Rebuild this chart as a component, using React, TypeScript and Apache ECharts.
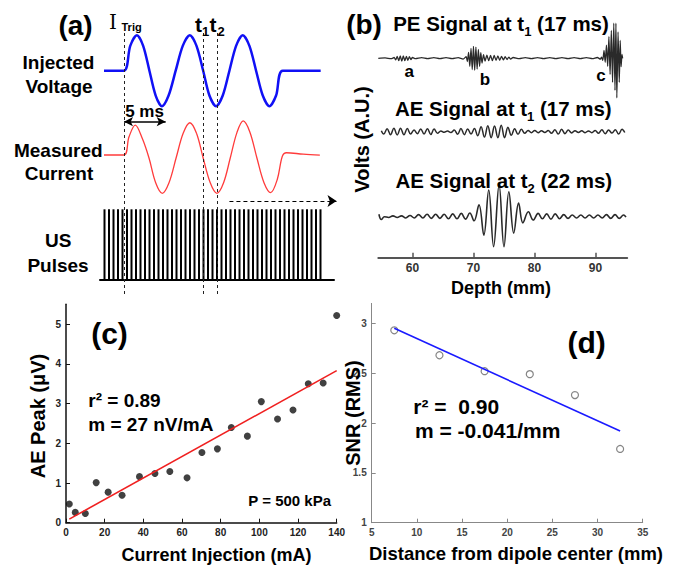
import React, { useEffect, useRef } from 'react';
import * as echarts from 'echarts';

const FONT = '"Liberation Sans", Arial, sans-serif';

// ---------- Panel (a): schematic waveforms, time in ms (5 ms arrow scale) ----------
const injectedVoltage: number[][] = [
  [-2.4, 0], [0, 0], [0.75, 0.7], [1.55, 1], [2.3, 0.7], [3.05, 0], [3.8, -0.7], [4.55, -1], [5.35, -0.7],
  [6.2, 0], [7.05, 0.7], [7.9, 1], [8.7, 0.7], [9.5, 0], [10.25, -0.7], [11.05, -1], [11.85, -0.7],
  [12.65, 0], [13.45, 0.7], [14.25, 1], [15.05, 0.7], [15.85, 0], [16.65, -0.7], [17.45, -1], [18.25, -0.7],
  [19.05, 0], [23.6, 0],
];
const measuredCurrent: number[][] = [
  [-2.4, 0.085], [0, 0.085], [0.6, 0.6], [1.35, 0.93], [2.2, 0.55], [3.0, 0], [3.8, -0.7], [4.6, -1], [5.4, -0.7],
  [6.25, 0], [7.1, 0.7], [7.9, 1], [8.7, 0.7], [9.5, 0], [10.35, -0.7], [11.15, -1], [11.95, -0.7],
  [12.75, 0], [13.55, 0.72], [14.3, 1.05], [15.1, 0.74], [15.95, 0], [16.8, -0.7], [17.6, -0.98], [18.4, -0.6],
  [19.0, 0.05], [19.5, 0.15], [21.5, 0.11], [23.5, 0.085],
];
const usPulses: (number | string)[] = [
  '-',
  1, 1, 1, 1, 1, 1, 1, 1, 1, 1,
  1, 1, 1, 1, 1, 1, 1, 1, 1, 1,
  1, 1, 1, 1, 1, 1, 1, 1, 1, 1,
  1, 1, 1, 1, 1, 1, 1, 1, 1, 1,
  1, 1, 1, 1, 1, 1, 1, 1, 1,
  '-', '-', '-',
];
const markerTimes = [0, 9.52, 11.2]; // I_Trig, t1, t2
const fiveMsArrow = [[0, 1.03], [5, 1.03]];
const continueArrow = [[12.65, -1.22], [25.5, -1.22]];

// ---------- Panel (b): signals vs depth (mm) ----------
const depthTicks = [60, 70, 80, 90];
const peSignal: number[][] = [
  [54.4, 0], [55.5, 0.01], [56.5, -0.01], [57.0, 0.02], [57.25, -0.04], [57.5, 0.05], [57.75, -0.06], [58.0, 0.06],
  [58.25, -0.07], [58.5, 0.06], [58.75, -0.06], [59.0, 0.05], [59.25, -0.05], [59.5, 0.04], [59.75, -0.03], [60.0, 0.02],
  [60.5, -0.01], [61.5, 0.015], [62.5, -0.01], [63.5, 0.015], [64.5, -0.01], [65.5, 0.015], [66.5, -0.01], [67.5, 0.015],
  [68.3, -0.02], [68.8, 0.04],
  [69.0, -0.08], [69.2, 0.15], [69.4, -0.2], [69.6, 0.25], [69.8, -0.28], [70.0, 0.3], [70.2, -0.3], [70.4, 0.28],
  [70.6, -0.27], [70.8, 0.22], [71.0, -0.2], [71.2, 0.14], [71.4, -0.12], [71.65, 0.09], [71.9, -0.07],
  [72.2, 0.08], [72.5, -0.06], [72.8, 0.07], [73.1, -0.06], [73.4, 0.07], [73.7, -0.05], [74.0, 0.06], [74.3, -0.05],
  [74.6, 0.05], [74.9, -0.04], [75.2, 0.04], [75.5, -0.03], [75.8, 0.03], [76.1, -0.02], [76.5, 0.02],
  [77.5, -0.01], [78.5, 0.015], [79.5, -0.01], [80.5, 0.015], [81.5, -0.01], [82.5, 0.015], [83.5, -0.01], [84.5, 0.015],
  [85.5, -0.01], [86.5, 0.015], [87.5, -0.01], [88.5, 0.015], [89.5, -0.01], [90.3, 0.02], [90.8, -0.02],
  [91.0, 0.03], [91.2, -0.05], [91.4, 0.2], [91.6, -0.1], [91.8, 0.33], [92.0, -0.2], [92.2, 0.54], [92.4, -0.4],
  [92.6, 0.7], [92.8, -0.6], [93.0, 0.88], [93.2, -0.8], [93.35, 0.88], [93.5, -0.99], [93.7, 0.66], [93.9, -0.6],
  [94.05, 0.45], [94.2, -0.21], [94.35, 0.1], [94.45, 0],
];
const aeSignalT1: number[][] = [
  [54.9, 0.05], [55.3, -0.12], [55.85, 0.15], [56.4, -0.15], [56.95, 0.17], [57.5, -0.16], [58.05, 0.17], [58.6, -0.15],
  [59.15, 0.16], [59.7, -0.12], [60.25, 0.08], [60.8, -0.1], [61.35, 0.14], [61.9, -0.12], [62.45, 0.15], [63.0, -0.14],
  [63.55, 0.13], [64.1, -0.08], [64.65, 0.04], [65.2, -0.03], [65.75, 0.03], [66.3, -0.04], [66.85, 0.08], [67.4, -0.13],
  [67.95, 0.16], [68.5, -0.15], [69.05, 0.14], [69.6, -0.12], [70.15, 0.16], [70.7, -0.2], [71.25, 0.25], [71.8, -0.27],
  [72.35, 0.3], [72.9, -0.3], [73.45, 0.28], [74.0, -0.3], [74.55, 0.32], [75.1, -0.3], [75.65, 0.22], [76.2, -0.18],
  [76.75, 0.15], [77.3, -0.13], [77.85, 0.12], [78.4, -0.08], [78.95, 0.06], [79.5, -0.05], [80.05, 0.06], [80.6, -0.05],
  [81.15, 0.05], [81.7, -0.04], [82.25, 0.06], [82.8, -0.08], [83.35, 0.1], [83.9, -0.12], [84.45, 0.12], [85.0, -0.1],
  [85.55, 0.08], [86.1, -0.06], [86.65, 0.05], [87.2, -0.04], [87.75, 0.05], [88.3, -0.05], [88.85, 0.04], [89.4, -0.05],
  [89.95, 0.06], [90.5, -0.08], [91.05, 0.1], [91.6, -0.1], [92.15, 0.09], [92.7, -0.07], [93.25, 0.1], [93.8, -0.12],
  [94.35, 0.12], [94.8, -0.04],
];
const aeSignalT2: number[][] = [
  [54.5, 0.06], [54.9, -0.07], [55.4, 0.0], [56.1, -0.02], [56.8, 0.02], [57.5, -0.02], [58.2, 0.02], [58.9, -0.03],
  [59.6, 0.03], [60.3, -0.03], [61.0, 0.05], [61.7, -0.03], [62.4, 0.06], [63.1, -0.04], [63.8, 0.06], [64.5, -0.04],
  [65.2, 0.06], [65.9, -0.05], [66.6, 0.07], [67.3, -0.05], [68.0, 0.08], [68.7, -0.06], [69.4, 0.09], [70.1, -0.1],
  [70.9, 0.29], [71.7, -0.45], [72.5, 0.65], [73.3, -0.73], [74.2, 0.77], [75.0, -0.73], [75.8, 0.61], [76.6, -0.4],
  [77.4, 0.33], [78.1, -0.15], [79.0, 0.12], [79.8, -0.08], [80.6, 0.08], [81.3, -0.05], [82.0, 0.07], [82.7, -0.06],
  [83.4, 0.07], [84.1, -0.05], [84.8, 0.05], [85.5, -0.04], [86.2, 0.04], [86.9, -0.03], [87.6, 0.04], [88.3, -0.03],
  [89.0, 0.04], [89.7, -0.03], [90.4, 0.04], [91.1, -0.03], [91.8, 0.05], [92.5, -0.04], [93.2, 0.05], [93.9, -0.04],
  [94.6, 0.04], [95.0, -0.01],
];

// ---------- Panel (c): AE peak vs current ----------
const currentMA = [1.7, 4.8, 10, 15.6, 21.8, 29, 38, 46, 53.7, 62.6, 70.3, 78.3, 85.5, 93.8, 101, 109.4, 117.4, 125.3, 133, 140];
const aePeakUV = [0.47, 0.26, 0.23, 1.01, 0.77, 0.69, 1.16, 1.24, 1.29, 1.13, 1.77, 1.86, 2.4, 2.18, 3.05, 2.61, 2.84, 3.5, 3.52, 5.22];
const fitC = [[1.7, 0.09], [140, 3.83]];
const yTicksC = [0, 1, 2, 3, 4, 5];

// ---------- Panel (d): SNR vs distance ----------
const distanceMM = [7.5, 12.5, 17.5, 22.5, 27.5, 32.5];
const snrRMS = [2.93, 2.68, 2.52, 2.49, 2.28, 1.74];
const fitD = [[7.5, 2.95], [32.5, 1.92]];
const yTicksD = [1, 1.5, 2, 2.5, 3];

const txt = (text: string, x: number, y: number, size: number, opts: any = {}) => ({
  type: 'text',
  x,
  y,
  z: 100,
  rotation: opts.rotation || 0,
  style: {
    text,
    fill: opts.fill || '#000',
    fontSize: size,
    fontWeight: opts.weight || 'bold',
    fontFamily: opts.family || FONT,
    align: opts.align || 'center',
    verticalAlign: 'middle',
  },
});

const richTitle = (pre: string, sub: string, post: string, x: number, y: number) => ({
  type: 'text',
  x,
  y,
  z: 100,
  style: {
    text: `{m|${pre}}{s|${sub}}{m|${post}}`,
    align: 'center',
    verticalAlign: 'middle',
    fill: '#000',
    rich: {
      m: { fontSize: 20.5, fontWeight: 'bold', fontFamily: FONT, fill: '#000', color: '#000', lineHeight: 30 },
      s: { fontSize: 13, fontWeight: 'bold', fontFamily: FONT, fill: '#000', color: '#000', lineHeight: 14, verticalAlign: 'bottom' },
    },
  },
});

const hiddenX = (gridIndex: number, min: number, max: number) => ({ gridIndex, type: 'value', min, max, show: false });
const hiddenY = (gridIndex: number, min: number, max: number) => ({ gridIndex, type: 'value', min, max, show: false });

const noBounds = { outerBoundsMode: 'none', containLabel: false };

const option: any = {
  animation: false,
  backgroundColor: '#fff',
  grid: [
    { left: 99, top: 35.2, width: 241.67, height: 71, ...noBounds },
    { left: 99, top: 113.9, width: 241.67, height: 88.25, ...noBounds },
    { left: 100, top: 209.3, width: 234, height: 70, ...noBounds },
    { left: 99, top: 30, width: 241.67, height: 264, ...noBounds },
    { left: 378.3, top: 18.3, width: 248.9, height: 80, ...noBounds },
    { left: 378.3, top: 111.7, width: 248.9, height: 40, ...noBounds },
    { left: 378.3, top: 175.7, width: 248.9, height: 82, ...noBounds },
    { left: 66, top: 304.35, width: 270.7, height: 218.35, ...noBounds },
    { left: 371.7, top: 303.4, width: 271, height: 219.3, ...noBounds },
  ],
  xAxis: [
    hiddenX(0, -3, 26),
    hiddenX(1, -3, 26),
    {
      gridIndex: 2,
      type: 'category',
      data: usPulses.map((_, i) => String(i)),
      boundaryGap: false,
      axisLine: { onZero: false, lineStyle: { color: '#000', width: 2 } },
      axisTick: { show: false },
      axisLabel: { show: false },
      splitLine: { show: false },
    },
    hiddenX(3, -3, 26),
    hiddenX(4, 54.4, 95.2),
    hiddenX(5, 54.4, 95.2),
    {
      gridIndex: 6,
      type: 'value',
      min: 54.4,
      max: 95.2,
      axisLine: { show: true, onZero: false, lineStyle: { color: '#555', width: 2 } },
      axisTick: { show: true, inside: true, length: 5, customValues: depthTicks, lineStyle: { color: '#555', width: 1.5 } },
      axisLabel: { customValues: depthTicks, fontSize: 12, fontWeight: 'bold', color: '#333', margin: 4, fontFamily: FONT },
      splitLine: { show: false },
    },
    {
      gridIndex: 7,
      type: 'value',
      min: 0,
      max: 140,
      interval: 20,
      axisLine: { show: true, onZero: false, lineStyle: { color: '#111', width: 1.5 } },
      axisTick: { show: true, inside: true, length: 4, lineStyle: { color: '#111' } },
      axisLabel: { fontSize: 10, fontWeight: 'bold', color: '#222', margin: 5, fontFamily: FONT },
      splitLine: { show: false },
    },
    {
      gridIndex: 8,
      type: 'value',
      min: 5,
      max: 35,
      interval: 5,
      axisLine: { show: true, onZero: false, lineStyle: { color: '#888', width: 1 } },
      axisTick: { show: true, inside: true, length: 4, lineStyle: { color: '#888' } },
      axisLabel: { fontSize: 10, fontWeight: 'bold', color: '#444', margin: 5, fontFamily: FONT },
      splitLine: { show: false },
    },
  ],
  yAxis: [
    hiddenY(0, -1, 1),
    hiddenY(1, -1.25, 1.25),
    hiddenY(2, 0, 1),
    hiddenY(3, 0, 1),
    hiddenY(4, -1, 1),
    hiddenY(5, -1, 1),
    hiddenY(6, -1, 1),
    {
      gridIndex: 7,
      type: 'value',
      min: 0,
      max: 5.5,
      axisLine: { show: true, onZero: false, lineStyle: { color: '#111', width: 1.5 } },
      axisTick: { show: true, inside: true, length: 4, customValues: yTicksC, lineStyle: { color: '#111' } },
      axisLabel: { customValues: yTicksC, fontSize: 10, fontWeight: 'bold', color: '#222', margin: 5, fontFamily: FONT },
      splitLine: { show: false },
    },
    {
      gridIndex: 8,
      type: 'value',
      min: 1,
      max: 3.2,
      axisLine: { show: true, onZero: false, lineStyle: { color: '#888', width: 1 } },
      axisTick: { show: true, inside: true, length: 4, customValues: yTicksD, lineStyle: { color: '#888' } },
      axisLabel: { customValues: yTicksD, fontSize: 10, fontWeight: 'bold', color: '#444', margin: 5, fontFamily: FONT },
      splitLine: { show: false },
    },
  ],
  series: [
    {
      name: 'Injected Voltage', type: 'line', xAxisIndex: 0, yAxisIndex: 0, data: injectedVoltage,
      smooth: 0.3, symbol: 'none', lineStyle: { color: '#1010f5', width: 2.5 }, clip: false,
    },
    {
      name: 'Measured Current', type: 'line', xAxisIndex: 1, yAxisIndex: 1, data: measuredCurrent,
      smooth: 0.35, symbol: 'none', lineStyle: { color: '#ff3b3b', width: 1.3 }, clip: false,
    },
    {
      name: '5 ms', type: 'line', xAxisIndex: 1, yAxisIndex: 1, data: [],
      markLine: {
        silent: true, animation: false, symbol: ['arrow', 'arrow'], symbolSize: [7, 9],
        lineStyle: { color: '#000', width: 1.5, type: 'solid' }, label: { show: false },
        data: [[{ coord: fiveMsArrow[0] }, { coord: fiveMsArrow[1] }]],
      },
    },
    {
      name: 'continues', type: 'line', xAxisIndex: 1, yAxisIndex: 1, data: [],
      markLine: {
        silent: true, animation: false, symbol: ['none', 'arrow'], symbolSize: 9,
        lineStyle: { color: '#000', width: 1.2, type: [4, 3] }, label: { show: false },
        data: [[{ coord: continueArrow[0] }, { coord: continueArrow[1] }]],
      },
    },
    {
      name: 'US Pulses', type: 'bar', xAxisIndex: 2, yAxisIndex: 2, data: usPulses,
      barWidth: 2, itemStyle: { color: '#000' },
    },
    {
      name: 'markers', type: 'line', xAxisIndex: 3, yAxisIndex: 3, data: [],
      markLine: {
        silent: true, animation: false, symbol: 'none',
        lineStyle: { color: '#222', width: 1, type: [3, 3] }, label: { show: false },
        data: markerTimes.map((t) => ({ xAxis: t })),
      },
    },
    {
      name: 'PE t1', type: 'line', xAxisIndex: 4, yAxisIndex: 4, data: peSignal,
      smooth: 0.2, symbol: 'none', lineStyle: { color: '#2a2a2a', width: 1.3 }, clip: false,
    },
    {
      name: 'AE t1', type: 'line', xAxisIndex: 5, yAxisIndex: 5, data: aeSignalT1,
      smooth: 0.4, symbol: 'none', lineStyle: { color: '#2a2a2a', width: 1.5 }, clip: false,
    },
    {
      name: 'AE t2', type: 'line', xAxisIndex: 6, yAxisIndex: 6, data: aeSignalT2,
      smooth: 0.4, symbol: 'none', lineStyle: { color: '#2a2a2a', width: 1.6 }, clip: false,
    },
    {
      name: 'fit c', type: 'line', xAxisIndex: 7, yAxisIndex: 7, data: fitC,
      symbol: 'none', lineStyle: { color: '#f02020', width: 1.6 },
    },
    {
      name: 'AE Peak', type: 'scatter', xAxisIndex: 7, yAxisIndex: 7,
      data: currentMA.map((x, i) => [x, aePeakUV[i]]),
      symbolSize: 7, itemStyle: { color: '#111' }, clip: false,
    },
    {
      name: 'fit d', type: 'line', xAxisIndex: 8, yAxisIndex: 8, data: fitD,
      symbol: 'none', lineStyle: { color: '#1a1aff', width: 1.6 },
    },
    {
      name: 'SNR', type: 'scatter', xAxisIndex: 8, yAxisIndex: 8,
      data: distanceMM.map((x, i) => [x, snrRMS[i]]),
      symbol: 'circle', symbolSize: 7, itemStyle: { color: '#fff', borderColor: '#666', borderWidth: 1.2 },
    },
  ],
  graphic: [
    // panel (a)
    txt('(a)', 75.5, 25.5, 28),
    txt('I', 109, 22, 20, { align: 'left', weight: 'normal', family: '"DejaVu Serif", "Liberation Serif", serif' }),
    txt('Trig', 121.5, 26.5, 11, { align: 'left' }),
    txt('t', 195, 24, 21, { align: 'left' }),
    txt('1', 202, 31, 13, { align: 'left' }),
    txt('t', 209.5, 24, 21, { align: 'left' }),
    txt('2', 217.5, 31, 13, { align: 'left' }),
    txt('Injected', 58.5, 62.7, 19),
    txt('Voltage', 59, 86.7, 19),
    txt('5 ms', 144.5, 111.7, 17),
    txt('Measured', 58.3, 150.7, 19),
    txt('Current', 59, 173.3, 19),
    txt('US', 58.3, 240, 19),
    txt('Pulses', 58, 265, 19),
    // panel (b)
    txt('(b)', 364, 24, 28),
    richTitle('PE Signal at t', '1', ' (17 ms)', 501, 23.3),
    richTitle('AE Signal at t', '1', ' (17 ms)', 503.3, 108.3),
    richTitle('AE Signal at t', '2', ' (22 ms)', 503.8, 180),
    txt('a', 409.3, 71.7, 17),
    txt('b', 485, 79.3, 17),
    txt('c', 601, 75, 17),
    txt('Volts (A.U.)', 361.7, 139.5, 20, { rotation: Math.PI / 2 }),
    txt('Depth (mm)', 501, 288, 18),
    // panel (c)
    txt('(c)', 109.5, 333.5, 30),
    txt('r² = 0.89', 88.3, 400, 19, { align: 'left' }),
    txt('m = 27 nV/mA', 88.3, 424, 19, { align: 'left' }),
    txt('P = 500 kPa', 289.7, 500, 15),
    txt('AE Peak (μV)', 38, 416, 20, { rotation: Math.PI / 2 }),
    txt('Current Injection (mA)', 216.5, 555, 18),
    // panel (d)
    txt('(d)', 586.7, 342, 30),
    txt('r² =  0.90', 413.3, 406, 21, { align: 'left' }),
    txt('m = -0.041/mm', 415, 430, 21, { align: 'left' }),
    txt('SNR (RMS)', 353, 413, 20, { rotation: Math.PI / 2 }),
    txt('Distance from dipole center (mm)', 516, 553, 18.5),
  ],
};

export default function App() {
  const ref = useRef<HTMLDivElement>(null);
  useEffect(() => {
    if (!ref.current) return;
    const chart = echarts.init(ref.current, null, { renderer: 'svg' });
    chart.setOption(option);
    return () => chart.dispose();
  }, []);
  return <div ref={ref} style={{ position: 'fixed', left: 0, top: 0, width: 677, height: 567, background: '#fff' }} />;
}
